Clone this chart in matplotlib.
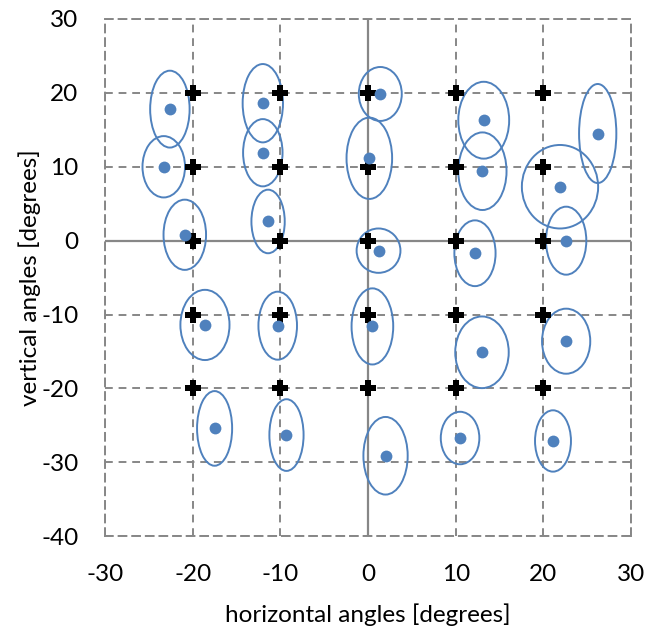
import matplotlib
matplotlib.use("Agg")
import matplotlib.pyplot as plt
from matplotlib.patches import Ellipse

plt.rcParams['font.family'] = ['Lato', 'DejaVu Sans']
plt.rcParams['axes.unicode_minus'] = False

# target grid (nominal angles)
target_x = [-20, -10, 0, 10, 20]
target_y = [20, 10, 0, -10, -20]

# measured mean positions
meas_x = [-22.6, -23.3, -20.9, -12.0, -12.0, -11.4, 1.4, 0.15, 13.2, 13.05,
          26.2, 21.9, 22.6, 1.2, 12.2, 0.5, 13.0, 22.6, 2.0, 10.5,
          21.1, -18.6, -10.3, -17.5, -9.3]
meas_y = [17.8, 10.0, 0.8, 18.6, 11.9, 2.6, 19.85, 11.15, 16.3, 9.4,
          14.5, 7.3, 0.0, -1.35, -1.7, -11.6, -15.1, -13.6, -29.1, -26.7,
          -27.1, -11.4, -11.5, -25.4, -26.3]
# spread ellipse sizes (full width / height, degrees)
ell_w = [4.5, 4.85, 4.85, 4.6, 4.5, 3.8, 4.9, 5.2, 5.8, 5.5,
         4.25, 8.7, 4.6, 5.0, 4.7, 4.75, 6.1, 5.5, 5.05, 4.4,
         4.1, 5.6, 4.4, 4.0, 3.9]
ell_h = [10.4, 8.3, 9.5, 10.6, 9.1, 8.6, 7.3, 11.0, 10.4, 10.5,
         13.4, 11.3, 9.2, 6.0, 8.9, 10.3, 9.7, 8.8, 10.5, 7.1,
         8.3, 9.5, 9.2, 10.1, 9.7]

blue = '#4F81BD'
grey = '#878787'

fig = plt.figure(figsize=(6.47, 6.32), dpi=100)
ax = fig.add_axes([0.1623, 0.1514, 0.8130, 0.8186])

ax.set_xlim(-30, 30)
ax.set_ylim(-40, 30)
ax.set_xticks(range(-30, 31, 10))
ax.set_yticks(range(-40, 31, 10))

ax.grid(True, color=grey, linestyle=(0, (4, 3)), linewidth=1.4, zorder=0)
for s in ax.spines.values():
    s.set_color(grey)
    s.set_linestyle((0, (4, 3)))
    s.set_linewidth(1.4)
ax.axhline(0, color=grey, linewidth=1.6, zorder=1)
ax.axvline(0, color=grey, linewidth=1.6, zorder=1)

for cx, cy, w, h in zip(meas_x, meas_y, ell_w, ell_h):
    ax.add_patch(Ellipse((cx, cy), w, h, fill=False, edgecolor=blue,
                         linewidth=1.4, zorder=2))

tx = [x for y in target_y for x in target_x]
ty = [y for y in target_y for x in target_x]
ax.plot(tx, ty, linestyle='none', marker='P', markersize=12,
        color='black', markeredgewidth=0, zorder=3)
ax.plot(meas_x, meas_y, linestyle='none', marker='o', markersize=8.5,
        color=blue, markeredgewidth=0, zorder=4)

ax.tick_params(length=0, labelsize=17.5, colors='black')
ax.tick_params(axis='x', pad=20)
ax.tick_params(axis='y', pad=19)
ax.set_xlabel('horizontal angles [degrees]', fontsize=17.5, labelpad=13.5)
ax.set_ylabel('vertical angles [degrees]', fontsize=17.5, labelpad=0)

fig.savefig('out.png', dpi=100)
